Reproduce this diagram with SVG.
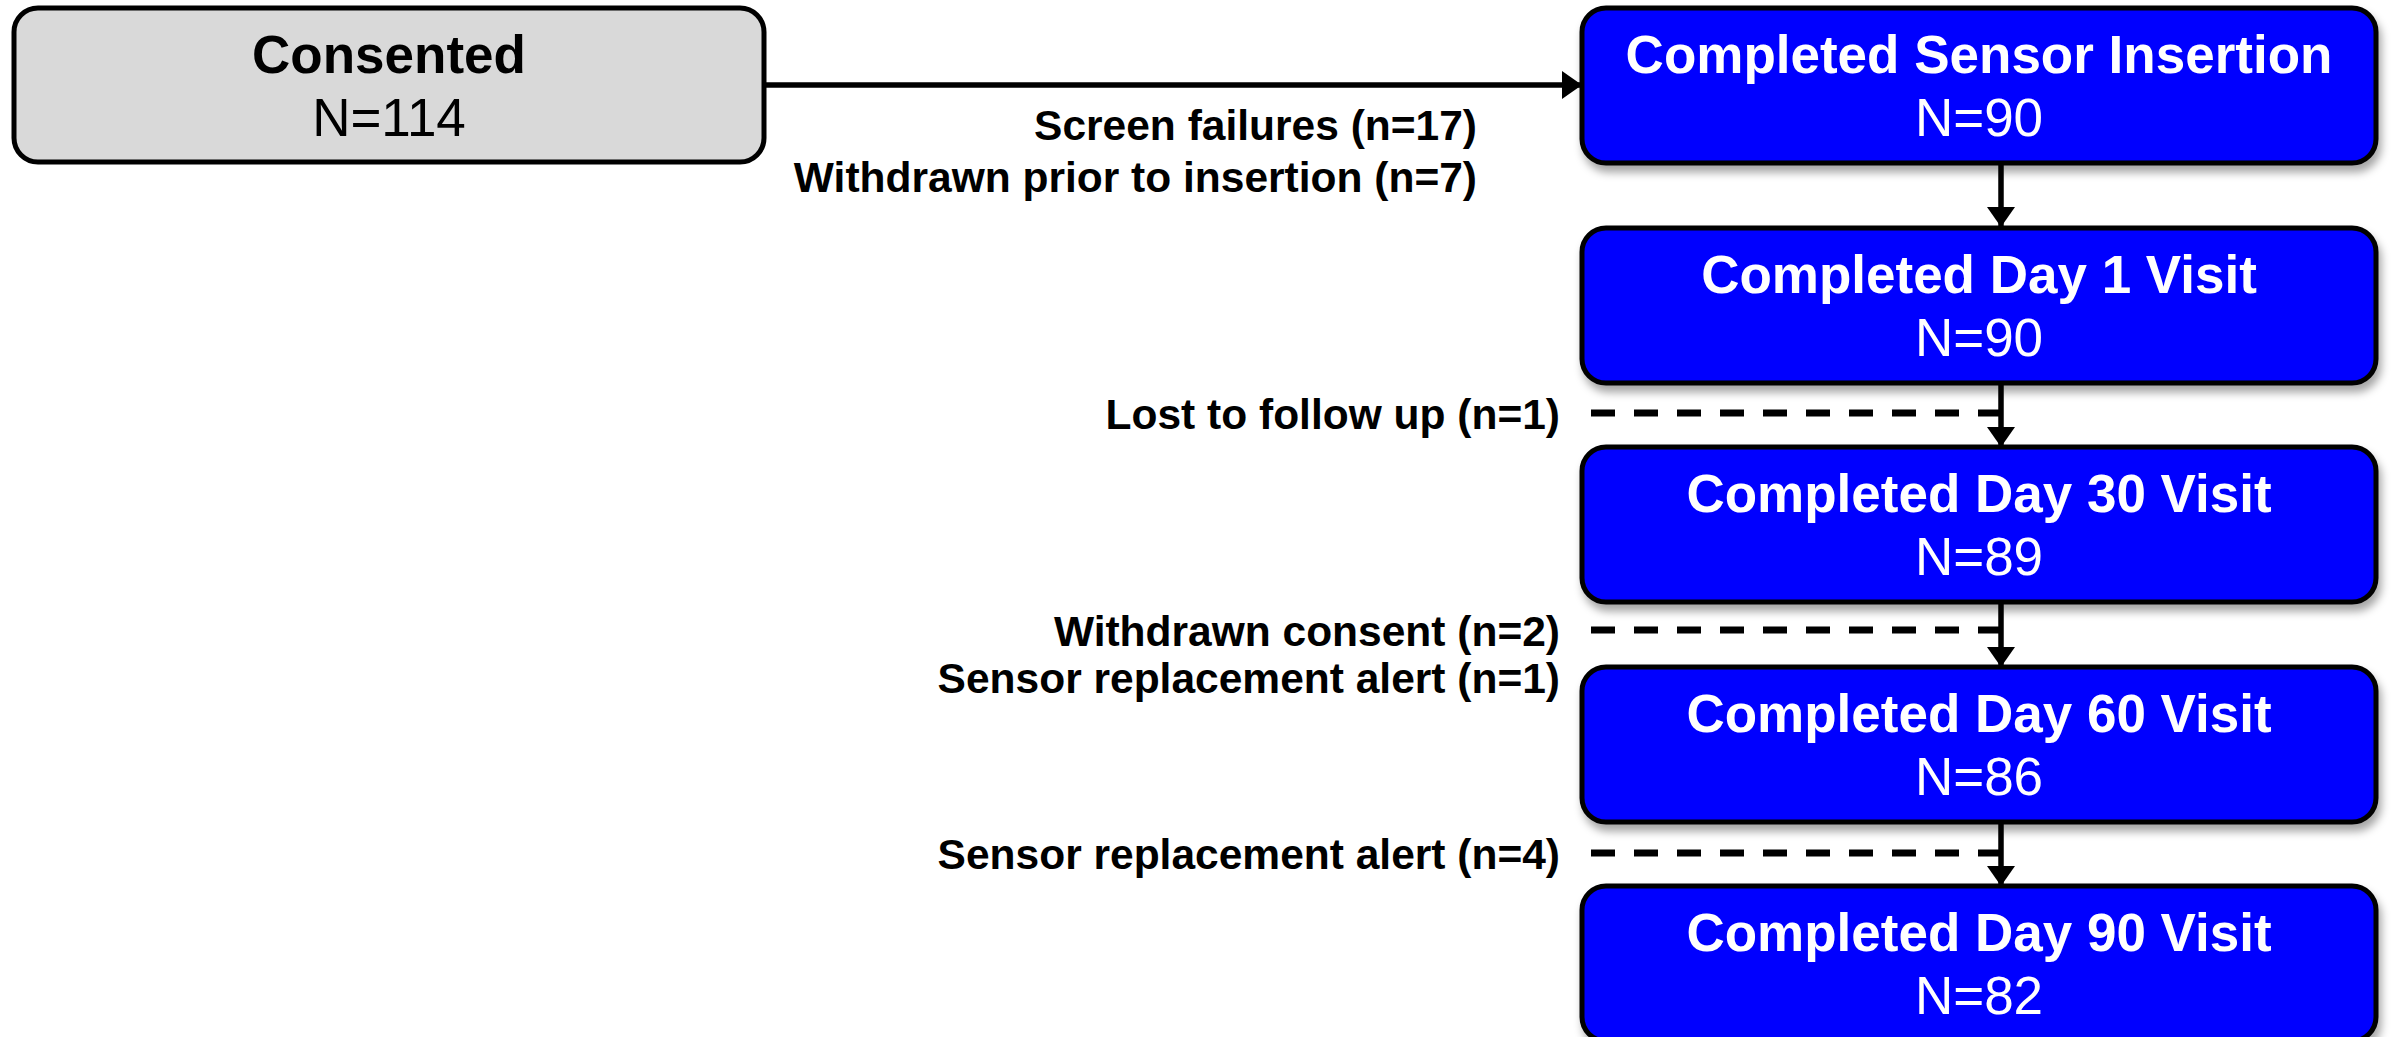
<svg xmlns="http://www.w3.org/2000/svg" width="2392" height="1037" viewBox="0 0 2392 1037">
  <style>
    .title { font-family: "Liberation Sans", Arial, sans-serif; font-weight: bold; font-size: 53px; text-anchor: middle; }
    .count { font-family: "Liberation Sans", Arial, sans-serif; font-size: 53px; text-anchor: middle; }
    .label { font-family: "Liberation Sans", Arial, sans-serif; font-weight: bold; font-size: 42.5px; text-anchor: end; fill: #000; }
    .stage rect { fill: #0000ff; stroke: #000; stroke-width: 5; filter: url(#shadow); }
    .stage text { fill: #fff; }
    .link { fill: none; stroke: #000; stroke-width: 5.5; }
    .drop { fill: none; stroke: #000; stroke-width: 7; stroke-dasharray: 24 19; }
  </style>
  <defs>
    <filter id="shadow" x="-5%" y="-10%" width="110%" height="130%">
      <feGaussianBlur in="SourceAlpha" stdDeviation="4"/>
      <feOffset dx="3" dy="7" result="blur"/>
      <feFlood flood-color="#000" flood-opacity="0.35"/>
      <feComposite in2="blur" operator="in"/>
      <feMerge>
        <feMergeNode/>
        <feMergeNode in="SourceGraphic"/>
      </feMerge>
    </filter>
    <marker id="head" viewBox="0 0 20 28" refX="20" refY="14" markerWidth="20" markerHeight="28" markerUnits="userSpaceOnUse" orient="auto">
      <path d="M0,0 L20,14 L0,28 Z" fill="#000"/>
    </marker>
  </defs>

  <!-- connectors -->
  <g id="connectors">
    <line class="link" x1="765" y1="85" x2="1582" y2="85" marker-end="url(#head)"/>
    <line class="link" x1="2001" y1="163" x2="2001" y2="227" marker-end="url(#head)"/>
    <line class="link" x1="2001" y1="383" x2="2001" y2="447" marker-end="url(#head)"/>
    <line class="link" x1="2001" y1="603" x2="2001" y2="667" marker-end="url(#head)"/>
    <line class="link" x1="2001" y1="822" x2="2001" y2="886" marker-end="url(#head)"/>
    <line class="drop" x1="1591" y1="413" x2="2001" y2="413"/>
    <line class="drop" x1="1591" y1="630" x2="2001" y2="630"/>
    <line class="drop" x1="1591" y1="853" x2="2001" y2="853"/>
  </g>

  <!-- exclusion labels -->
  <g id="labels">
    <text class="label" x="1477" y="140">Screen failures (n=17)</text>
    <text class="label" x="1477" y="192">Withdrawn prior to insertion (n=7)</text>
    <text class="label" x="1560" y="429">Lost to follow up (n=1)</text>
    <text class="label" x="1560" y="646">Withdrawn consent (n=2)</text>
    <text class="label" x="1560" y="693">Sensor replacement alert (n=1)</text>
    <text class="label" x="1560" y="869">Sensor replacement alert (n=4)</text>
  </g>

  <g id="consented">
    <rect x="14" y="8" width="750" height="154" rx="24" fill="#d9d9d9" stroke="#000" stroke-width="5"/>
    <text class="title" x="389" y="73">Consented</text>
    <text class="count" x="389" y="136">N=114</text>
  </g>

  <g id="sensor-insertion" class="stage">
    <rect x="1582" y="8" width="794" height="155" rx="24"/>
    <text class="title" x="1979" y="73">Completed Sensor Insertion</text>
    <text class="count" x="1979" y="136">N=90</text>
  </g>

  <g id="day-1" class="stage">
    <rect x="1582" y="228" width="794" height="155" rx="24"/>
    <text class="title" x="1979" y="293">Completed Day 1 Visit</text>
    <text class="count" x="1979" y="356">N=90</text>
  </g>

  <g id="day-30" class="stage">
    <rect x="1582" y="447" width="794" height="155" rx="24"/>
    <text class="title" x="1979" y="512">Completed Day 30 Visit</text>
    <text class="count" x="1979" y="575">N=89</text>
  </g>

  <g id="day-60" class="stage">
    <rect x="1582" y="667" width="794" height="155" rx="24"/>
    <text class="title" x="1979" y="732">Completed Day 60 Visit</text>
    <text class="count" x="1979" y="795">N=86</text>
  </g>

  <g id="day-90" class="stage">
    <rect x="1582" y="886" width="794" height="155" rx="24"/>
    <text class="title" x="1979" y="951">Completed Day 90 Visit</text>
    <text class="count" x="1979" y="1014">N=82</text>
  </g>
</svg>
